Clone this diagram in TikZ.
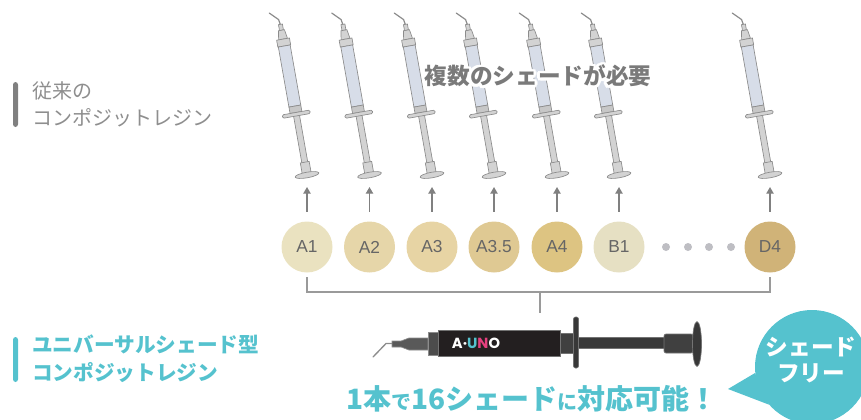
\documentclass[tikz,border=0pt]{standalone}
\usepackage{fontspec}
\usepackage{tikz}
\usetikzlibrary{arrows.meta}
\newfontfamily\jp{Noto Sans CJK JP}
\newfontfamily\lab{Liberation Sans}
\newfontfamily\logo{Poppins}

\definecolor{unoteal}{HTML}{55C2CE}
\definecolor{unopink}{HTML}{E5407E}
\definecolor{unoblack}{HTML}{231F20}
\definecolor{labgray}{HTML}{8E8E8E}
\definecolor{needgray}{HTML}{7A7A7A}
\definecolor{linegray}{HTML}{9A9A9A}
\definecolor{dotgray}{HTML}{BEBEC3}
\definecolor{edgegray}{HTML}{8C8C8C}
\definecolor{partgray}{HTML}{D3D3D3}
\definecolor{barrelblue}{HTML}{D7DDE8}
\definecolor{shA1}{HTML}{EAE2C0}
\definecolor{shA2}{HTML}{E6D6A9}
\definecolor{shA3}{HTML}{E7D4A4}
\definecolor{shA35}{HTML}{DFC993}
\definecolor{shA4}{HTML}{DDC482}
\definecolor{shB1}{HTML}{E6E0C3}
\definecolor{shD4}{HTML}{D0B378}

\tikzset{
	shadecircle/.style={circle, minimum size=38.25pt, inner sep=0pt, text=black!60, font=\lab\fontsize{13}{13}\selectfont},
	feedarrow/.style={draw=black!50, line width=1pt, -{Triangle[width=5.5pt,length=5pt]}, shorten <=7pt, shorten >=9pt},
	bracketline/.style={draw=linegray, line width=1pt},
	greylabel/.style={anchor=west, align=left, inner sep=0pt, text=labgray, font=\jp\fontsize{15}{20.25}\selectfont},
	teallabel/.style={anchor=west, align=left, inner sep=0pt, text=unoteal, font=\jp\bfseries\fontsize{15.5}{21}\selectfont},
	needtext/.style={inner sep=0pt, text=needgray, font=\jp\bfseries\fontsize{17}{17}\selectfont},
	slogan/.style={inner sep=0pt, text=unoteal, font=\jp\bfseries\fontsize{21}{21}\selectfont},
	bubble/.style={circle, fill=unoteal, minimum size=85.5pt, inner sep=0pt},
	bubbletext/.style={align=center, inner sep=0pt, text=white, font=\jp\bfseries\fontsize{17}{19.5}\selectfont}
}

% one tilted syringe, #1 is the centre of the plunger disc
\def\syringe(#1){%
	\begin{scope}[shift={(#1)}, rotate=10, color=edgegray, line width=0.5pt]
		\draw[line width=0.9pt, line cap=round] (0,-152) -- (-1,-158) -- (-9,-166);
		\draw[fill=partgray] (-2,-147) rectangle (2,-153);
		\draw[fill=partgray] (-4.5,-138) -- (-3,-147) -- (3,-147) -- (4.5,-138) -- cycle;
		\draw[fill=partgray] (-6.5,-131) rectangle (6.5,-138);
		\draw[fill=barrelblue] (-6,-70) rectangle (6,-131);
		\draw[fill=partgray] (-3,-11) rectangle (3,-62);
		\draw[fill=partgray] (-4.5,-2) rectangle (4.5,-13);
		\draw[fill=partgray] (0,0) ellipse (12 and 2.8);
		\draw[fill=black!22] (-6,-63.5) rectangle (6,-70);
		\draw[fill=partgray, rounded corners=1pt] (-14,-60) rectangle (14,-63.5);
	\end{scope}}

\begin{document}
\begin{tikzpicture}[x=0.75pt, y=-0.75pt]
			%%%%% START %%%%%
			\useasboundingbox (0,0) rectangle (861,419);
			
			% labels on the left
			\fill[black!50, rounded corners=2pt] (13,82) rectangle (18,127);
			\node[greylabel] (old) at (32,104.5) {従来の\\コンポジットレジン};
			\fill[unoteal, rounded corners=2pt] (13,337) rectangle (18,382);
			\node[teallabel] (uni) at (32,359) {ユニバーサルシェード型\\コンポジットレジン};
			
			% syringes
			\coordinate (s1) at (307,175);
			\coordinate (s2) at (369.5,175);
			\coordinate (s3) at (432,175);
			\coordinate (s35) at (494,175);
			\coordinate (s4) at (557,175);
			\coordinate (s5) at (619,175);
			\coordinate (s7) at (770,175);
			\syringe(s1)
			\syringe(s2)
			\syringe(s3)
			\syringe(s35)
			\syringe(s4)
			\syringe(s5)
			\syringe(s7)
			
			% white halo behind the caption
			\foreach \a in {0,22.5,...,337.5}
				\node[needtext, text=white] (halo\a) at ([shift={(\a:2pt)}]538,76) {複数のシェードが必要};
			\node[needtext] (need) at (538,76) {複数のシェードが必要};
			
			% shade circles
			\node[shadecircle, fill=shA1] (a1) at (307,247) {A1};
			\node[shadecircle, fill=shA2] (a2) at (369.5,247) {A2};
			\node[shadecircle, fill=shA3] (a3) at (432,247) {A3};
			\node[shadecircle, fill=shA35] (a35) at (494,247) {A3.5};
			\node[shadecircle, fill=shA4] (a4) at (557,247) {A4};
			\node[shadecircle, fill=shB1] (b1) at (619,247) {B1};
			\node[shadecircle, fill=shD4] (d4) at (770,247) {D4};
			\fill[dotgray] (666,247) circle (4);
			\fill[dotgray] (688,247) circle (4);
			\fill[dotgray] (709,247) circle (4);
			\fill[dotgray] (731,247) circle (4);
			
			\draw[feedarrow] (a1.north) -- (s1);
			\draw[feedarrow] (a2.north) -- (s2);
			\draw[feedarrow] (a3.north) -- (s3);
			\draw[feedarrow] (a35.north) -- (s35);
			\draw[feedarrow] (a4.north) -- (s4);
			\draw[feedarrow] (b1.north) -- (s5);
			\draw[feedarrow] (d4.north) -- (s7);
			
			% bracket down to the single syringe
			\coordinate (br) at (540,292);
			\coordinate (auno) at (540,313);
			\draw[bracketline] ([yshift=-3.4pt]a1.south) |- (br) -| ([yshift=-3.4pt]d4.south);
			\draw[bracketline] (br) -- (auno);
			
			% A-UNO syringe
			\draw[line width=1pt, color=black!45, line cap=round] (373,357) -- (386,343.5) -- (393,343.5);
			\draw[fill=black!65, draw=black!45, line width=0.5pt] (392,341) -- (401,341) -- (409,338) -- (428,338) -- (428,350) -- (409,350) -- (401,347) -- (392,347) -- cycle;
			\draw[fill=black!70, draw=black!45, line width=0.5pt] (428,332) rectangle (438,355);
			\draw[fill=unoblack, draw=black!55, line width=0.5pt] (438,330) rectangle (560,356);
			\draw[fill=black!75, draw=black!55, line width=0.5pt] (560,333) rectangle (574,353);
			\draw[fill=black!78, draw=black!55, line width=0.5pt] (578,337) rectangle (664,348);
			\draw[fill=black!75, draw=black!55, line width=0.5pt, rounded corners=1.5pt] (664,334) rectangle (693,353);
			\draw[fill=black!78, draw=black!55, line width=0.5pt] (697,344) ellipse (4.5 and 22.5);
			\draw[fill=black!78, draw=black!55, line width=0.5pt, rounded corners=1.5pt] (573.5,317) rectangle (578.5,368);
			\node[text=white, inner sep=0pt, font=\logo\bfseries\fontsize{11}{11}\selectfont] (logo) at (476,343) {A·\textcolor{unoteal}{U}\textcolor{unopink}{N}O};
			
			\node[slogan] (slogan) at (532,399) {1本{\fontsize{15}{15}\selectfont で}16シェード{\fontsize{15}{15}\selectfont に}対応可能！};
			
			% speech bubble
			\node[bubble] (bubble) at (812,367) {};
			\coordinate (tip) at (728,389);
			\fill[unoteal] (bubble.186) -- (tip) -- (bubble.221) -- cycle;
			\node[bubbletext] (free) at (811,360) {シェード\\フリー};
			
			%%%%% END %%%%%
\end{tikzpicture}
\end{document}
